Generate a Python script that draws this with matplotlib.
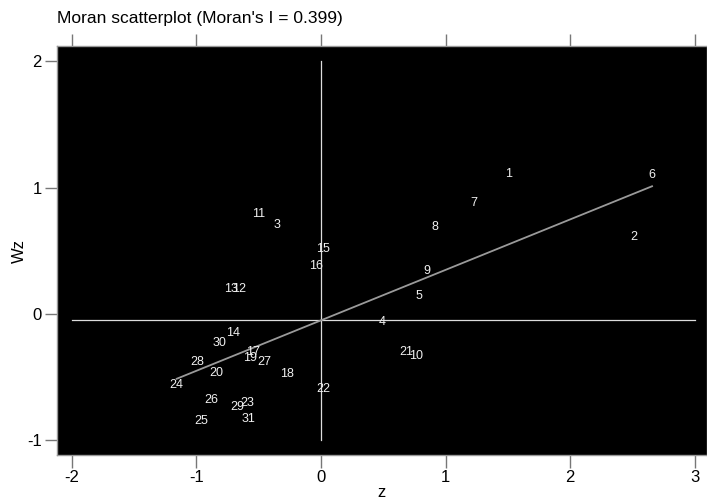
import numpy as np
import matplotlib
matplotlib.use("Agg")
import matplotlib.pyplot as plt

plt.rcParams['font.family'] = ['Liberation Sans', 'DejaVu Sans']

# observation ids, standardised value z and its spatial lag Wz
ids = ['1', '2', '3', '4', '5', '6', '7', '8', '9', '10',
       '11', '12', '13', '14', '15', '16', '17', '18', '19', '20',
       '21', '22', '23', '24', '25', '26', '27', '28', '29', '30', '31']
z = [1.509, 2.512, -0.353, 0.490, 0.787, 2.657, 1.228, 0.915, 0.851, 0.762,
     -0.498, -0.658, -0.722, -0.709, 0.016, -0.040, -0.548, -0.270, -0.570, -0.837,
     0.682, 0.019, -0.591, -1.158, -0.958, -0.877, -0.455, -0.993, -0.672, -0.816, -0.578]
wz = [1.107, 0.609, 0.704, -0.063, 0.142, 1.099, 0.877, 0.688, 0.340, -0.332,
      0.791, 0.198, 0.198, -0.148, 0.514, 0.379, -0.298, -0.474, -0.350, -0.464,
      -0.300, -0.593, -0.701, -0.564, -0.846, -0.680, -0.379, -0.382, -0.738, -0.232, -0.827]

morans_i = 0.399
intercept = -0.05
xticks = [-2, -1, 0, 1, 2, 3]
yticks = [-1, 0, 1, 2]

fig = plt.figure(figsize=(7.07, 4.98), dpi=100)
ax = fig.add_axes([0.0806, 0.0863, 0.9194, 0.8213])
ax.set_facecolor('black')

ax.set_xlim(-2.119, 3.098)
ax.set_ylim(-1.115, 2.119)

# reference lines
ax.plot([0, 0], [-1, 2], color='#dddddd', lw=0.9)
ax.plot([-2, 3], [intercept, intercept], color='#dddddd', lw=0.9)

# regression line (slope = Moran's I)
zz = np.array([min(z), max(z)])
ax.plot(zz, intercept + morans_i * zz, color='#9a9a9a', lw=1.3)

for lab, x, y in zip(ids, z, wz):
    ax.text(x, y, lab, color='#f0f0f0', fontsize=9, ha='center', va='center')

ax.set_xticks(xticks)
ax.set_yticks(yticks)
ax.set_xticklabels([str(t) for t in xticks], fontsize=12)
ax.set_yticklabels([str(t) for t in yticks], fontsize=12)
ax.tick_params(axis='both', direction='out', length=9, width=1, color='#777777',
               top=True, labeltop=False, pad=2)
for s in ax.spines.values():
    s.set_color('#999999')
    s.set_linewidth(1)

ax.set_xlabel('z', fontsize=12, labelpad=0)
ax.set_ylabel('Wz', fontsize=12, labelpad=0)

fig.text(57 / 707, 1 - 18 / 498, "Moran scatterplot (Moran's I = 0.399)",
         fontsize=12.5, ha='left', va='center')

fig.savefig('out.png', dpi=100)
